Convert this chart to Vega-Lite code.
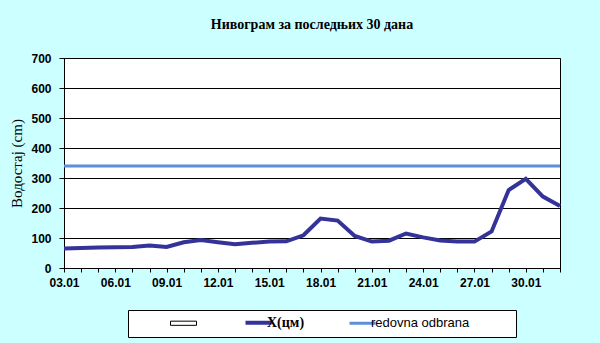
{
  "$schema": "https://vega.github.io/schema/vega-lite/v6.json",
  "width": 496,
  "height": 210,
  "autosize": {"type": "none"},
  "padding": {"left": 64, "top": 58, "right": 40, "bottom": 75},
  "background": "#CCFFFF",
  "title": {"text": "Нивограм за последњих 30 дана", "font": "Liberation Serif", "fontSize": 14, "fontWeight": "bold", "color": "black", "offset": 20, "anchor": "middle"},
  "config": {
    "view": {"fill": "white", "stroke": "black", "strokeWidth": 1},
    "axis": {"domainColor": "black", "tickColor": "black", "labelColor": "black", "titleColor": "black", "labelFont": "Liberation Sans", "labelFontWeight": "bold", "labelFontSize": 12}
  },
  "data": {"values": [
    {"date": "03.01", "series": "X(цм)", "value": 65},
    {"date": "04.01", "series": "X(цм)", "value": 67},
    {"date": "05.01", "series": "X(цм)", "value": 68},
    {"date": "06.01", "series": "X(цм)", "value": 69},
    {"date": "07.01", "series": "X(цм)", "value": 70},
    {"date": "08.01", "series": "X(цм)", "value": 75},
    {"date": "09.01", "series": "X(цм)", "value": 70},
    {"date": "10.01", "series": "X(цм)", "value": 86},
    {"date": "11.01", "series": "X(цм)", "value": 93},
    {"date": "12.01", "series": "X(цм)", "value": 86},
    {"date": "13.01", "series": "X(цм)", "value": 79},
    {"date": "14.01", "series": "X(цм)", "value": 84},
    {"date": "15.01", "series": "X(цм)", "value": 88},
    {"date": "16.01", "series": "X(цм)", "value": 89},
    {"date": "17.01", "series": "X(цм)", "value": 109},
    {"date": "18.01", "series": "X(цм)", "value": 165},
    {"date": "19.01", "series": "X(цм)", "value": 158},
    {"date": "20.01", "series": "X(цм)", "value": 107},
    {"date": "21.01", "series": "X(цм)", "value": 88},
    {"date": "22.01", "series": "X(цм)", "value": 91},
    {"date": "23.01", "series": "X(цм)", "value": 115},
    {"date": "24.01", "series": "X(цм)", "value": 102},
    {"date": "25.01", "series": "X(цм)", "value": 92},
    {"date": "26.01", "series": "X(цм)", "value": 88},
    {"date": "27.01", "series": "X(цм)", "value": 88},
    {"date": "28.01", "series": "X(цм)", "value": 122},
    {"date": "29.01", "series": "X(цм)", "value": 260},
    {"date": "30.01", "series": "X(цм)", "value": 297},
    {"date": "31.01", "series": "X(цм)", "value": 238},
    {"date": "01.02", "series": "X(цм)", "value": 207},
    {"date": "03.01", "series": "redovna odbrana", "value": 340},
    {"date": "04.01", "series": "redovna odbrana", "value": 340},
    {"date": "05.01", "series": "redovna odbrana", "value": 340},
    {"date": "06.01", "series": "redovna odbrana", "value": 340},
    {"date": "07.01", "series": "redovna odbrana", "value": 340},
    {"date": "08.01", "series": "redovna odbrana", "value": 340},
    {"date": "09.01", "series": "redovna odbrana", "value": 340},
    {"date": "10.01", "series": "redovna odbrana", "value": 340},
    {"date": "11.01", "series": "redovna odbrana", "value": 340},
    {"date": "12.01", "series": "redovna odbrana", "value": 340},
    {"date": "13.01", "series": "redovna odbrana", "value": 340},
    {"date": "14.01", "series": "redovna odbrana", "value": 340},
    {"date": "15.01", "series": "redovna odbrana", "value": 340},
    {"date": "16.01", "series": "redovna odbrana", "value": 340},
    {"date": "17.01", "series": "redovna odbrana", "value": 340},
    {"date": "18.01", "series": "redovna odbrana", "value": 340},
    {"date": "19.01", "series": "redovna odbrana", "value": 340},
    {"date": "20.01", "series": "redovna odbrana", "value": 340},
    {"date": "21.01", "series": "redovna odbrana", "value": 340},
    {"date": "22.01", "series": "redovna odbrana", "value": 340},
    {"date": "23.01", "series": "redovna odbrana", "value": 340},
    {"date": "24.01", "series": "redovna odbrana", "value": 340},
    {"date": "25.01", "series": "redovna odbrana", "value": 340},
    {"date": "26.01", "series": "redovna odbrana", "value": 340},
    {"date": "27.01", "series": "redovna odbrana", "value": 340},
    {"date": "28.01", "series": "redovna odbrana", "value": 340},
    {"date": "29.01", "series": "redovna odbrana", "value": 340},
    {"date": "30.01", "series": "redovna odbrana", "value": 340},
    {"date": "31.01", "series": "redovna odbrana", "value": 340},
    {"date": "01.02", "series": "redovna odbrana", "value": 340}
  ]},
  "encoding": {
    "x": {
      "field": "date", "type": "ordinal", "sort": null,
      "scale": {"type": "point", "padding": 0},
      "axis": {
        "title": null, "labelAngle": 0, "tickSize": 4, "labelPadding": 5, "grid": false,
        "labelExpr": "indexof(['03.01','06.01','09.01','12.01','15.01','18.01','21.01','24.01','27.01','30.01'], datum.value) >= 0 ? datum.value : ''"
      }
    },
    "y": {
      "field": "value", "type": "quantitative",
      "scale": {"domain": [0, 700]},
      "axis": {
        "title": "Водостај (cm)", "titleFont": "Liberation Serif", "titleFontSize": 15, "titleFontWeight": "normal", "titlePadding": 6,
        "values": [0, 100, 200, 300, 400, 500, 600, 700],
        "tickSize": 5, "labelPadding": 8, "grid": true, "gridColor": "black", "gridOpacity": 1, "gridWidth": 1
      }
    },
    "color": {
      "field": "series", "type": "nominal",
      "scale": {"domain": ["blank", "X(цм)", "redovna odbrana"], "range": ["black", "#333399", "#5B8FD8"]},
      "legend": {
        "orient": "none", "legendX": 64, "legendY": 252, "direction": "horizontal",
        "title": " ", "titleOrient": "left", "titleFontSize": 1, "titlePadding": 43,
        "strokeColor": "black", "fillColor": "white", "padding": 6, "labelLimit": 300,
        "columnPadding": 38, "labelOffset": 2, "symbolSize": 676, "labelFontSize": 13, "labelColor": "black",
        "labelExpr": "datum.value === 'blank' ? ' ' : datum.value === 'redovna odbrana' ? datum.label + '\u2800\u2800\u2800\u2800' : datum.label",
        "encode": {
          "symbols": {"update": {
            "shape": {"signal": "datum.value === 'blank' ? 'M-1,-0.16H1V0.16H-1Z' : 'stroke'"},
            "fill": {"signal": "datum.value === 'blank' ? 'white' : 'transparent'"},
            "stroke": {"signal": "datum.value === 'blank' ? 'black' : (datum.value === 'X(цм)' ? '#333399' : '#5B8FD8')"},
            "strokeWidth": {"signal": "datum.value === 'blank' ? 1 : (datum.value === 'X(цм)' ? 4 : 3)"},
            "opacity": {"value": 1}
          }},
          "labels": {"update": {
            "font": {"signal": "datum.value === 'X(цм)' ? 'Liberation Serif' : 'Liberation Sans'"},
            "fontWeight": {"signal": "datum.value === 'X(цм)' ? 'bold' : 'normal'"},
            "fontSize": {"signal": "datum.value === 'X(цм)' ? 14 : 13"}
          }}
        }
      }
    }
  },
  "layer": [
    {"transform": [{"filter": "datum.series === 'redovna odbrana'"}], "mark": {"type": "line", "strokeWidth": 3}},
    {"transform": [{"filter": "datum.series === 'X(цм)'"}], "mark": {"type": "line", "strokeWidth": 4}}
  ]
}
